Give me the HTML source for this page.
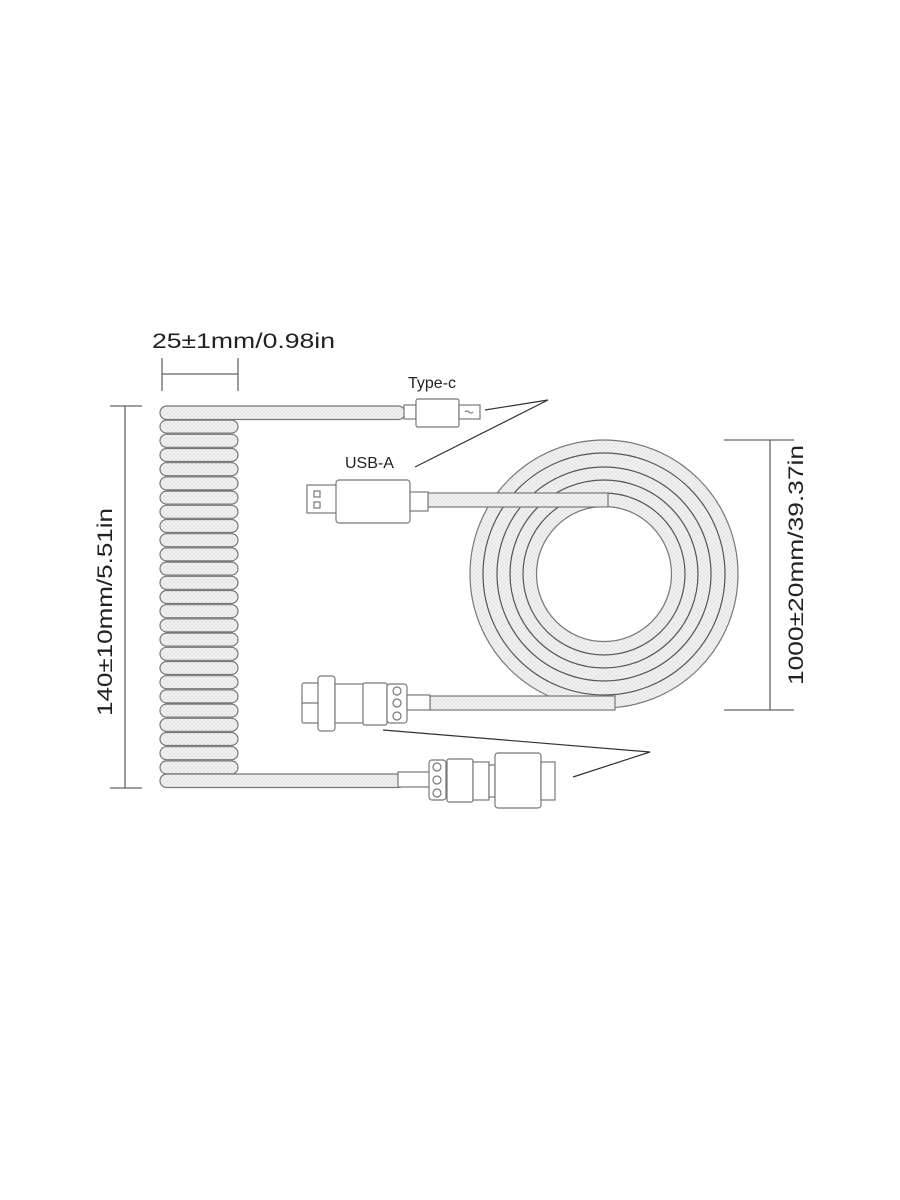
<!DOCTYPE html>
<html><head><meta charset="utf-8"><style>
html,body{margin:0;padding:0;background:#fff;}
svg{display:block}
text{font-family:"Liberation Sans","DejaVu Sans",sans-serif;fill:#222}
</style></head><body>
<svg width="900" height="1200" viewBox="0 0 900 1200" xmlns="http://www.w3.org/2000/svg">
<defs>
<pattern id="p" width="4" height="4" patternUnits="userSpaceOnUse">
<rect width="4" height="4" fill="#f4f4f4"/><path d="M0 0L4 4M4 0L0 4" stroke="#ddd" stroke-width="0.6"/>
</pattern>
</defs>
<g stroke="#666" stroke-width="1.3">
<line x1="162" y1="358" x2="162" y2="391"/><line x1="238" y1="358" x2="238" y2="391"/><line x1="162" y1="374" x2="238" y2="374"/>
<line x1="110" y1="406" x2="142" y2="406"/><line x1="110" y1="788" x2="142" y2="788"/><line x1="125" y1="406" x2="125" y2="788"/>
<line x1="724" y1="440" x2="794" y2="440"/><line x1="724" y1="710" x2="794" y2="710"/><line x1="770" y1="440" x2="770" y2="710"/>
</g>
<text x="152" y="348" font-size="21" textLength="183" lengthAdjust="spacingAndGlyphs">25±1mm/0.98in</text>
<text transform="translate(112,612) rotate(-90)" font-size="21" text-anchor="middle" textLength="208" lengthAdjust="spacingAndGlyphs">140±10mm/5.51in</text>
<text transform="translate(803,565) rotate(-90)" font-size="21" text-anchor="middle" textLength="240" lengthAdjust="spacingAndGlyphs">1000±20mm/39.37in</text>
<text x="408" y="388" font-size="16">Type-c</text>
<text x="345" y="468" font-size="16">USB-A</text>

<g fill="url(#p)" stroke="#777" stroke-width="1.2">
<circle cx="604" cy="574" r="134"/>
<circle cx="604" cy="574" r="121" fill="none" stroke="#555"/>
<circle cx="604" cy="574" r="107" fill="none" stroke="#555"/>
<circle cx="604" cy="574" r="94" fill="none" stroke="#555"/>
<circle cx="604" cy="574" r="81" fill="none" stroke="#555"/>
<circle cx="604" cy="574" r="67.5" fill="#fff"/>
<rect x="428" y="493" width="180" height="14"/>
<rect x="430" y="696" width="185" height="14"/>
<rect x="160" y="406" width="245" height="13.5" rx="6.75"/>
<rect x="160" y="420.1" width="78" height="13" rx="6.5"/>
<rect x="160" y="434.3" width="78" height="13" rx="6.5"/>
<rect x="160" y="448.5" width="78" height="13" rx="6.5"/>
<rect x="160" y="462.7" width="78" height="13" rx="6.5"/>
<rect x="160" y="476.9" width="78" height="13" rx="6.5"/>
<rect x="160" y="491.1" width="78" height="13" rx="6.5"/>
<rect x="160" y="505.3" width="78" height="13" rx="6.5"/>
<rect x="160" y="519.5" width="78" height="13" rx="6.5"/>
<rect x="160" y="533.7" width="78" height="13" rx="6.5"/>
<rect x="160" y="547.9" width="78" height="13" rx="6.5"/>
<rect x="160" y="562.1" width="78" height="13" rx="6.5"/>
<rect x="160" y="576.3" width="78" height="13" rx="6.5"/>
<rect x="160" y="590.5" width="78" height="13" rx="6.5"/>
<rect x="160" y="604.7" width="78" height="13" rx="6.5"/>
<rect x="160" y="618.9" width="78" height="13" rx="6.5"/>
<rect x="160" y="633.1" width="78" height="13" rx="6.5"/>
<rect x="160" y="647.3" width="78" height="13" rx="6.5"/>
<rect x="160" y="661.5" width="78" height="13" rx="6.5"/>
<rect x="160" y="675.7" width="78" height="13" rx="6.5"/>
<rect x="160" y="689.9" width="78" height="13" rx="6.5"/>
<rect x="160" y="704.1" width="78" height="13" rx="6.5"/>
<rect x="160" y="718.3" width="78" height="13" rx="6.5"/>
<rect x="160" y="732.5" width="78" height="13" rx="6.5"/>
<rect x="160" y="746.7" width="78" height="13" rx="6.5"/>
<rect x="160" y="760.9" width="78" height="13" rx="6.5"/>
<rect x="160" y="774" width="245" height="13.5" rx="6.75"/>
</g>

<g fill="#fff" stroke="#777" stroke-width="1.2">
<rect x="404" y="405" width="12" height="14"/>
<rect x="416" y="399" width="43" height="28" rx="2"/>
<rect x="459" y="405" width="21" height="14"/>
<path d="M465 412q2-2 4 0t4 0" fill="none"/>
<rect x="307" y="485" width="30" height="28"/>
<rect x="314" y="491" width="6" height="6"/><rect x="314" y="502" width="6" height="6"/>
<rect x="336" y="480" width="74" height="43" rx="3"/>
<rect x="410" y="492" width="18" height="19"/>
<rect x="302" y="683" width="17" height="40" rx="2"/>
<line x1="302" y1="703" x2="319" y2="703"/>
<rect x="318" y="676" width="17" height="55" rx="3"/>
<rect x="335" y="684" width="29" height="39"/>
<rect x="363" y="683" width="24" height="42" rx="2"/>
<rect x="387" y="684" width="20" height="39" rx="3"/>
<circle cx="397" cy="691" r="4"/><circle cx="397" cy="703" r="4"/><circle cx="397" cy="716" r="4"/>
<rect x="407" y="695" width="23" height="15"/>
<rect x="398" y="772" width="32" height="15"/>
<rect x="429" y="760" width="17" height="40" rx="3"/>
<circle cx="437" cy="767" r="4"/><circle cx="437" cy="780" r="4"/><circle cx="437" cy="793" r="4"/>
<rect x="447" y="759" width="26" height="43" rx="2"/>
<rect x="473" y="762" width="16" height="38"/>
<rect x="489" y="765" width="6" height="32"/>
<rect x="495" y="753" width="46" height="55" rx="3"/>
<rect x="541" y="762" width="14" height="38"/>
</g>

<g stroke="#333" stroke-width="1.2" fill="none">
<polyline points="485,410 548,400 415,467"/>
<polyline points="383,730 650,752 573,777"/>
</g>
</svg>
</body></html>
